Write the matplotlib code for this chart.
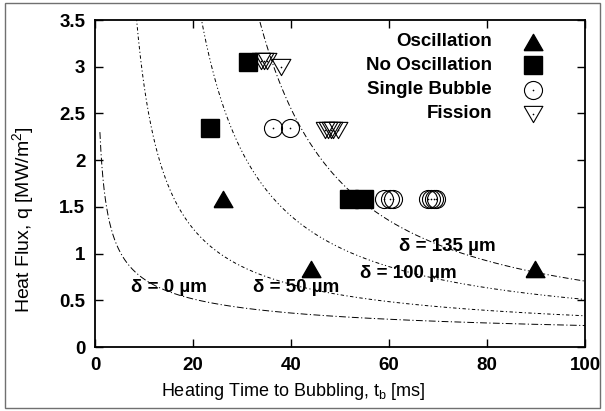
import math
import numpy as np
import matplotlib
matplotlib.use("Agg")
import matplotlib.pyplot as plt
from matplotlib.patches import Rectangle

plt.rcParams['font.family'] = ['Liberation Sans', 'DejaVu Sans']
plt.rcParams['mathtext.fontset'] = 'custom'
plt.rcParams['mathtext.rm'] = 'Liberation Sans'
plt.rcParams['mathtext.it'] = 'Liberation Sans'

# Measured bubbling events: heating time t_b [ms] and heat flux q [MW/m^2]
osc_t = [26.2, 44.0, 89.8]
osc_q = [1.58, 0.83, 0.83]

noosc_t = [31.2, 23.5, 51.9, 54.9]
noosc_q = [3.05, 2.34, 1.58, 1.58]

single_t = [36.3, 39.7, 59.0, 60.2, 60.8, 68.0, 68.6, 69.2, 69.6]
single_q = [2.34, 2.34, 1.58, 1.58, 1.58, 1.58, 1.58, 1.58, 1.58]

fission_t = [33.8, 34.4, 35.0, 38.0, 47.0, 47.6, 48.1, 48.6, 49.5]
fission_q = [3.06, 3.06, 3.06, 3.00, 2.32, 2.32, 2.32, 2.32, 2.32]

# Conduction model: superheat reached at depth delta of a semi-infinite liquid
deltas_um = [0, 50, 100, 135]
delta_labels = ["δ = 0 µm", "δ = 50 µm", "δ = 100 µm", "δ = 135 µm"]
label_t = [15.1, 41.0, 63.9, 72.0]
label_q = [0.635, 0.635, 0.79, 1.08]
q_coef = 2.3        # MW/m^2 * ms^0.5  (k dT sqrt(pi) / (2 sqrt(alpha)))
alpha = 160.0       # thermal diffusivity, um^2/ms


def model_flux(t, delta):
    u = delta / (2.0 * np.sqrt(alpha * t))
    erfc = np.vectorize(math.erfc)(u)
    g = np.exp(-u ** 2) - np.sqrt(np.pi) * u * erfc
    with np.errstate(divide='ignore', invalid='ignore'):
        q = q_coef / (np.sqrt(t) * g)
    q[(g <= 0) | (q > 6)] = np.nan
    return q


fig = plt.figure(figsize=(6.05, 4.11), dpi=100)
ax = fig.add_axes([95 / 605, 1 - 347 / 411, 490 / 605, 327 / 411])

dash_styles = [(0, (7, 2.5, 1.2, 2.5)), (0, (3.5, 2.5, 1.2, 2.5)),
               (0, (4, 2.5, 1.2, 2.5, 1.2, 2.5)), (0, (6, 2.5, 1.2, 2.5))]
t_grid = np.linspace(1.0, 100.0, 3000)
for d, ls in zip(deltas_um, dash_styles):
    ax.plot(t_grid, model_flux(t_grid, d), color='black', lw=0.7, linestyle=ls)

for txt, tx, qy in zip(delta_labels, label_t, label_q):
    ax.text(tx, qy, txt, ha='center', va='center', fontsize=13.5,
            fontweight='bold', color='black')

# Closed triangles with equal sides
tri_up = [(-1, -0.866), (1, -0.866), (0, 0.866), (-1, -0.866)]
tri_dn = [(-1, 0.866), (1, 0.866), (0, -0.866), (-1, 0.866)]

ax.plot(osc_t, osc_q, linestyle='none', marker=tri_up, ms=13.5,
        mfc='black', mec='black')
ax.plot(noosc_t, noosc_q, linestyle='none', marker='s', ms=13.5,
        mfc='black', mec='black')
ax.plot(single_t, single_q, linestyle='none', marker='o', ms=13,
        mfc='none', mec='black', mew=0.8)
ax.plot(single_t, single_q, linestyle='none', marker='o', ms=1.2,
        mfc='black', mec='black', mew=0)
ax.plot(fission_t, fission_q, linestyle='none', marker=tri_dn, ms=13.5,
        mfc='none', mec='black', mew=0.8)
ax.plot(fission_t, fission_q, linestyle='none', marker='o', ms=1.2,
        mfc='black', mec='black', mew=0)

# Legend: right-aligned labels with the symbol on the right
legend_names = ["Oscillation", "No Oscillation", "Single Bubble", "Fission"]
legend_markers = [dict(marker=tri_up, ms=13.5, mfc='black', mec='black'),
                  dict(marker='s', ms=13.5, mfc='black', mec='black'),
                  dict(marker='o', ms=13, mfc='none', mec='black', mew=0.8),
                  dict(marker=tri_dn, ms=13.5, mfc='none', mec='black', mew=0.8)]
row_y = [0.934, 0.862, 0.786, 0.713]
for name, mk, yy in zip(legend_names, legend_markers, row_y):
    ax.text(0.810, yy, name, transform=ax.transAxes, ha='right', va='center',
            fontsize=13.5, fontweight='bold')
    ax.plot([0.894], [yy], transform=ax.transAxes, linestyle='none', **mk)
    if mk['mfc'] == 'none':
        ax.plot([0.894], [yy], transform=ax.transAxes, linestyle='none',
                marker='o', ms=1.2, mfc='black', mec='black', mew=0)

ax.set_xlim(0, 100)
ax.set_ylim(0, 3.5)
ax.set_xticks([0, 20, 40, 60, 80, 100])
ax.set_yticks([0, 0.5, 1, 1.5, 2, 2.5, 3, 3.5])
ax.set_yticklabels(['0', '0.5', '1', '1.5', '2', '2.5', '3', '3.5'])
ax.tick_params(direction='in', length=6, width=1, top=True, right=True,
               labelsize=13.5, pad=7)
for lab in ax.get_xticklabels() + ax.get_yticklabels():
    lab.set_fontweight('bold')
for sp in ax.spines.values():
    sp.set_linewidth(1.3)

ax.set_xlabel("Heating Time to Bubbling, t$_\\mathregular{b}$ [ms]", fontsize=13)
ax.set_ylabel("Heat Flux, q [MW/m$^\\mathregular{2}$]", fontsize=14)
ax.xaxis.set_label_coords(0.404, -0.105)
ax.yaxis.set_label_coords(-0.12, 0.39)

fig.patches.append(Rectangle((5 / 605, 3 / 411), 595 / 605, 405 / 411,
                             transform=fig.transFigure, fill=False,
                             edgecolor='#707070', lw=1))

fig.savefig("out.png", dpi=100)
